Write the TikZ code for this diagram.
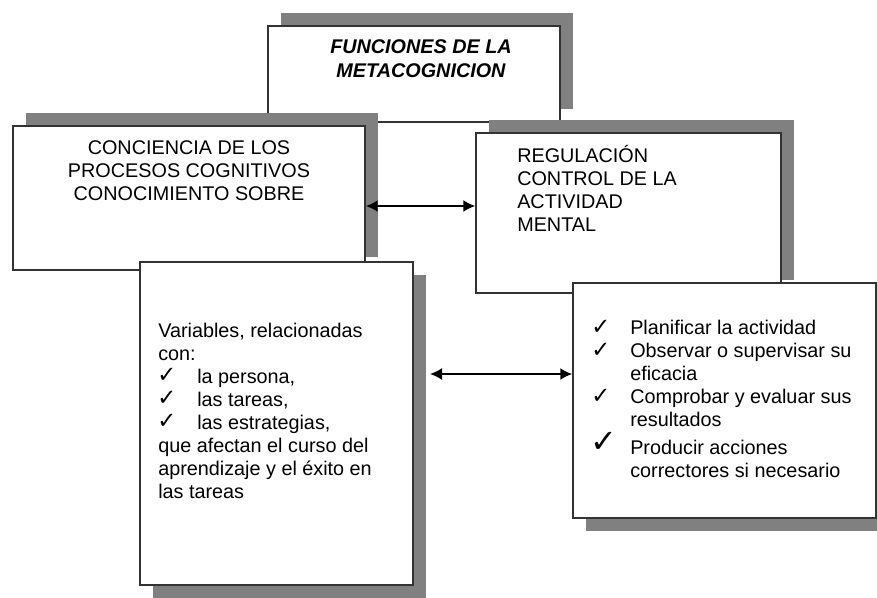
\documentclass[tikz,border=0pt]{standalone}
\usepackage{fontspec}
\setmainfont{Liberation Sans}
\newfontfamily\symfont{DejaVu Sans}
\usetikzlibrary{arrows.meta,fit,shadows}

\begin{document}
\begin{tikzpicture}[
    x=0.75pt, y=-0.75pt,
    font=\fontsize{14.85}{17.25}\selectfont,
    box/.style={draw=black!80, line width=1.1pt, fill=white, inner sep=0pt},
    upshadow/.style={drop shadow={shadow xshift=9.75pt, shadow yshift=9.75pt, fill=black!50, opacity=1}},
    downshadow/.style={drop shadow={shadow xshift=9.75pt, shadow yshift=-9.75pt, fill=black!50, opacity=1}},
    txt/.style={align=left, inner sep=0pt, anchor=base west},
    tick/.style={inner sep=0pt, anchor=base west, font=\symfont\fontsize{17}{18}\selectfont},
    arrow/.style={{Latex[length=9pt,width=9pt]}-{Latex[length=9pt,width=9pt]}, line width=1.4pt}
  ]
    \useasboundingbox (0,0) rectangle (877,597);

    % title
    \node[box, upshadow, fit={(268,26) (560,122)}] (titulo) {};
    \node[align=center, inner sep=0pt, anchor=base, font=\fontsize{14.85}{18}\selectfont\bfseries\itshape] (tituloTxt) at (421,77) {FUNCIONES DE LA\\METACOGNICION};

    % upper boxes
    \node[box, upshadow, fit={(13,126) (365,270)}] (conciencia) {};
    \node[align=center, inner sep=0pt, anchor=base] (concienciaTxt) at (189,200) {CONCIENCIA DE LOS\\PROCESOS COGNITIVOS\\CONOCIMIENTO SOBRE};

    \node[box, upshadow, fit={(476,133) (781,293)}] (regulacion) {};
    \node[txt] (regulacionTxt) at (517,231) {REGULACIÓN\\CONTROL DE LA\\ACTIVIDAD\\MENTAL};

    % lower boxes
    \node[box, downshadow, fit={(140,262) (413,585)}] (variables) {};
    \node[txt] (variablesTxt) at (158,498) {Variables, relacionadas\\con:\\\hspace*{29.25pt}la persona,\\\hspace*{29.25pt}las tareas,\\\hspace*{29.25pt}las estrategias,\\que afectan el curso del\\aprendizaje y el éxito en\\las tareas};
    \foreach \y [count=\i] in {382,405,428} {
      \node[tick] (checkV\i) at (157,\y) {✓};
    }

    \node[box, downshadow, fit={(573,283) (876,518)}] (acciones) {};
    \node[txt] (accionesTxt) at (630,477) {Planificar la actividad\\Observar o supervisar su\\eficacia\\Comprobar y evaluar sus\\resultados\\[3.75pt]Producir acciones\\correctores si necesario};
    \foreach \y [count=\i] in {334,357,403} {
      \node[tick] (checkA\i) at (591,\y) {✓};
    }
    \node[tick, font=\symfont\fontsize{24}{26}\selectfont] (checkA4) at (590,452) {✓};

    % connectors
    \coordinate (f1) at (420,206);
    \coordinate (f2) at (430,374);
    \draw[arrow] (conciencia.east |- f1) -- (regulacion.west |- f1);
    \draw[arrow] (f2) -- (f2 -| acciones.west);
  \end{tikzpicture}
\end{document}
